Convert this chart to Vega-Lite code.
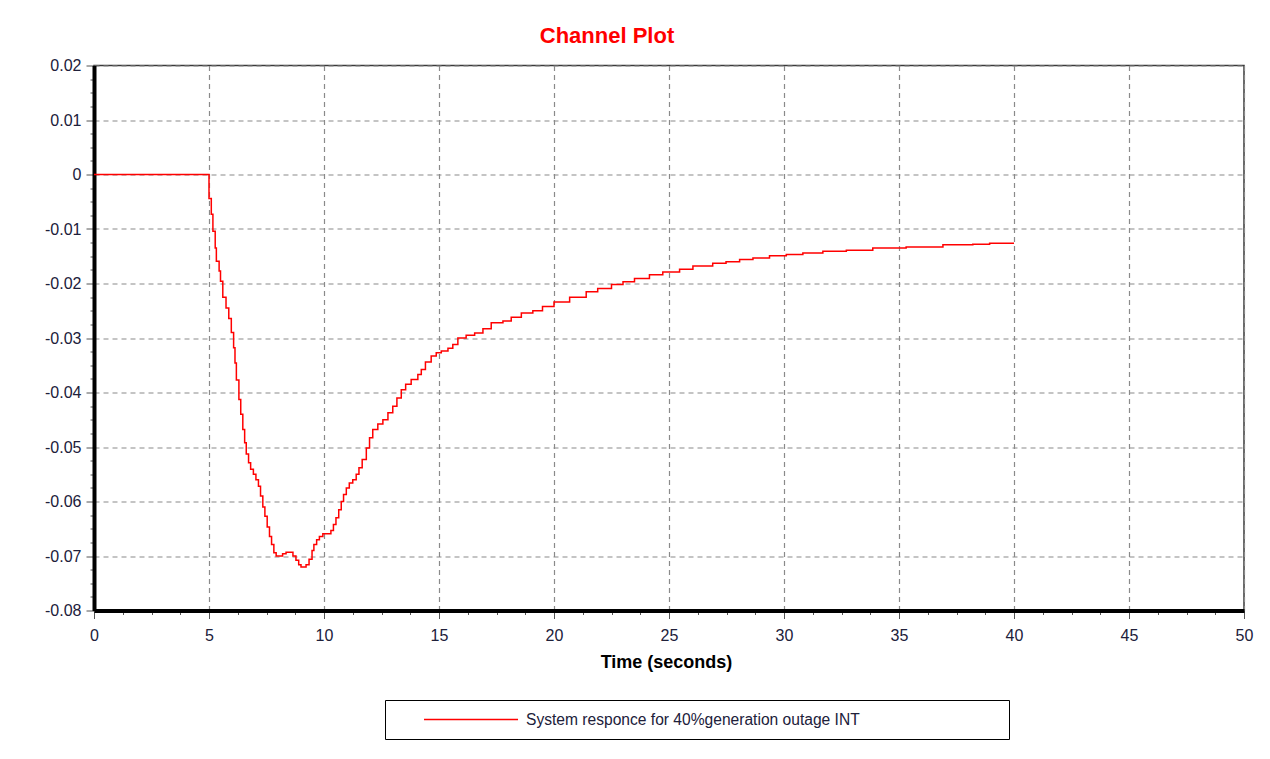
{
  "$schema": "https://vega.github.io/schema/vega-lite/v6.json",
  "autosize": {"type": "none"},
  "padding": {"left": 94, "top": 65.5, "right": 26, "bottom": 148.5},
  "width": 1150,
  "height": 545,
  "background": "white",
  "title": {
    "text": "Channel Plot",
    "color": "#ff0000",
    "font": "Liberation Sans",
    "fontSize": 22,
    "fontWeight": "bold",
    "anchor": "middle",
    "frame": "group",
    "dx": -62,
    "offset": 10
  },
  "config": {
    "view": {"stroke": "#3a3a3a", "strokeWidth": 1.5},
    "axis": {
      "labelFont": "Liberation Sans",
      "labelFontSize": 16,
      "labelColor": "#20203a",
      "titleFont": "Liberation Sans",
      "domainColor": "black",
      "domainWidth": 4,
      "tickColor": "#555555",
      "tickWidth": 1,
      "gridColor": "#8a8a8a",
      "gridDash": [5, 4],
      "gridWidth": 1.2
    },
    "legend": {
      "labelFont": "Liberation Sans",
      "labelFontSize": 15.6,
      "labelColor": "#20203a"
    }
  },
  "data": {
    "values": [
      {"t": 0, "v": 0}, {"t": 5.0, "v": -0.0044}, {"t": 5.1, "v": -0.0073},
      {"t": 5.17, "v": -0.0104}, {"t": 5.27, "v": -0.0135}, {"t": 5.32, "v": -0.0159},
      {"t": 5.44, "v": -0.0177}, {"t": 5.5, "v": -0.0196}, {"t": 5.6, "v": -0.0225},
      {"t": 5.74, "v": -0.0245}, {"t": 5.86, "v": -0.0264}, {"t": 5.97, "v": -0.029},
      {"t": 6.07, "v": -0.0318}, {"t": 6.13, "v": -0.0346}, {"t": 6.19, "v": -0.0377},
      {"t": 6.3, "v": -0.0413}, {"t": 6.38, "v": -0.044}, {"t": 6.47, "v": -0.0468},
      {"t": 6.55, "v": -0.0492}, {"t": 6.62, "v": -0.0513}, {"t": 6.72, "v": -0.0529},
      {"t": 6.81, "v": -0.0541}, {"t": 6.93, "v": -0.055}, {"t": 7.04, "v": -0.056},
      {"t": 7.15, "v": -0.0572}, {"t": 7.24, "v": -0.059}, {"t": 7.34, "v": -0.061},
      {"t": 7.43, "v": -0.0627}, {"t": 7.53, "v": -0.0647}, {"t": 7.63, "v": -0.0664},
      {"t": 7.72, "v": -0.0679}, {"t": 7.82, "v": -0.0694}, {"t": 7.92, "v": -0.07},
      {"t": 8.2, "v": -0.0696}, {"t": 8.35, "v": -0.0693}, {"t": 8.65, "v": -0.07},
      {"t": 8.78, "v": -0.0708}, {"t": 8.9, "v": -0.0716}, {"t": 9.0, "v": -0.072},
      {"t": 9.22, "v": -0.0716}, {"t": 9.35, "v": -0.0706}, {"t": 9.48, "v": -0.069},
      {"t": 9.56, "v": -0.0679}, {"t": 9.68, "v": -0.067}, {"t": 9.8, "v": -0.0664},
      {"t": 9.95, "v": -0.0659}, {"t": 10.3, "v": -0.0653}, {"t": 10.41, "v": -0.0642},
      {"t": 10.52, "v": -0.063}, {"t": 10.64, "v": -0.0615}, {"t": 10.75, "v": -0.06},
      {"t": 10.85, "v": -0.0587}, {"t": 10.97, "v": -0.0575}, {"t": 11.1, "v": -0.0566},
      {"t": 11.25, "v": -0.056}, {"t": 11.4, "v": -0.055}, {"t": 11.52, "v": -0.0538},
      {"t": 11.66, "v": -0.0523}, {"t": 11.84, "v": -0.0502}, {"t": 11.98, "v": -0.0483},
      {"t": 12.12, "v": -0.0468}, {"t": 12.34, "v": -0.0458}, {"t": 12.56, "v": -0.045},
      {"t": 12.78, "v": -0.0437}, {"t": 12.99, "v": -0.0425}, {"t": 13.17, "v": -0.041},
      {"t": 13.36, "v": -0.0395}, {"t": 13.55, "v": -0.0385}, {"t": 13.79, "v": -0.0376},
      {"t": 14.08, "v": -0.0367}, {"t": 14.23, "v": -0.0358}, {"t": 14.41, "v": -0.0344},
      {"t": 14.66, "v": -0.0333}, {"t": 14.88, "v": -0.0327}, {"t": 15.1, "v": -0.0324},
      {"t": 15.39, "v": -0.0319}, {"t": 15.6, "v": -0.0312}, {"t": 15.82, "v": -0.03},
      {"t": 16.18, "v": -0.0295}, {"t": 16.55, "v": -0.0291}, {"t": 16.91, "v": -0.0283},
      {"t": 17.27, "v": -0.0272}, {"t": 17.78, "v": -0.0269}, {"t": 18.14, "v": -0.0262},
      {"t": 18.58, "v": -0.0254}, {"t": 19.08, "v": -0.025}, {"t": 19.5, "v": -0.0242},
      {"t": 20.0, "v": -0.0234}, {"t": 20.68, "v": -0.0225}, {"t": 21.4, "v": -0.0215},
      {"t": 21.9, "v": -0.0209}, {"t": 22.5, "v": -0.0202}, {"t": 23.0, "v": -0.0197},
      {"t": 23.5, "v": -0.0191}, {"t": 24.15, "v": -0.0184}, {"t": 24.73, "v": -0.0179},
      {"t": 25.46, "v": -0.0174}, {"t": 26.04, "v": -0.0168}, {"t": 26.9, "v": -0.0163},
      {"t": 27.48, "v": -0.016}, {"t": 28.07, "v": -0.0156}, {"t": 28.65, "v": -0.0153},
      {"t": 29.37, "v": -0.0149}, {"t": 30.1, "v": -0.0147}, {"t": 30.82, "v": -0.0144},
      {"t": 31.69, "v": -0.0141}, {"t": 32.71, "v": -0.0139}, {"t": 33.86, "v": -0.0135},
      {"t": 35.31, "v": -0.0133}, {"t": 36.91, "v": -0.0129}, {"t": 38.21, "v": -0.0128},
      {"t": 38.94, "v": -0.0126}, {"t": 40.0, "v": -0.0126}
    ]
  },
  "transform": [
    {"calculate": "'System responce for 40%generation outage INT'", "as": "series"}
  ],
  "mark": {"type": "line", "interpolate": "step-after", "strokeWidth": 1.5, "clip": true},
  "encoding": {
    "x": {
      "field": "t",
      "type": "quantitative",
      "scale": {"domain": [0, 50], "nice": false, "zero": false},
      "axis": {
        "title": "Time (seconds)",
        "titleFontSize": 18,
        "titleFontWeight": "bold",
        "titleColor": "black",
        "titleBaseline": "alphabetic",
        "titleY": 57,
        "titleX": 572,
        "values": [0, 1.25, 2.5, 3.75, 5, 6.25, 7.5, 8.75, 10, 11.25, 12.5, 13.75, 15, 16.25, 17.5, 18.75, 20, 21.25, 22.5, 23.75, 25, 26.25, 27.5, 28.75, 30, 31.25, 32.5, 33.75, 35, 36.25, 37.5, 38.75, 40, 41.25, 42.5, 43.75, 45, 46.25, 47.5, 48.75, 50],
        "labelExpr": "datum.value % 5 == 0 ? datum.label : ''",
        "labelFlush": false,
        "labelOverlap": false,
        "labelPadding": 9,
        "tickSize": {"condition": {"test": "datum.value % 5 == 0", "value": 8}, "value": 4},
        "gridOpacity": {"condition": {"test": "datum.value % 5 == 0", "value": 1}, "value": 0}
      }
    },
    "y": {
      "field": "v",
      "type": "quantitative",
      "scale": {"domain": [-0.08, 0.02], "nice": false, "zero": false},
      "axis": {
        "title": null,
        "values": [-0.08, -0.0775, -0.075, -0.0725, -0.07, -0.0675, -0.065, -0.0625, -0.06, -0.0575, -0.055, -0.0525, -0.05, -0.0475, -0.045, -0.0425, -0.04, -0.0375, -0.035, -0.0325, -0.03, -0.0275, -0.025, -0.0225, -0.02, -0.0175, -0.015, -0.0125, -0.01, -0.0075, -0.005, -0.0025, 0, 0.0025, 0.005, 0.0075, 0.01, 0.0125, 0.015, 0.0175, 0.02],
        "labelExpr": "abs(datum.value * 100 - round(datum.value * 100)) < 0.001 ? replace(format(datum.value, '.2~f'), '−', '-') : ''",
        "labelOverlap": false,
        "labelFlush": false,
        "labelPadding": 5,
        "tickSize": {"condition": {"test": "abs(datum.value * 100 - round(datum.value * 100)) < 0.001", "value": 8}, "value": 4},
        "gridOpacity": {"condition": {"test": "abs(datum.value * 100 - round(datum.value * 100)) < 0.001", "value": 1}, "value": 0}
      }
    },
    "color": {
      "field": "series",
      "type": "nominal",
      "scale": {"range": ["#ff0000"]},
      "legend": {
        "title": null,
        "orient": "none",
        "legendX": 291,
        "legendY": 634.5,
        "padding": 10.5,
        "fillColor": "white",
        "strokeColor": "black",
        "symbolType": "M2.44,0H14.19M73.8,0",
        "symbolSize": 256,
        "symbolStrokeWidth": 1.5,
        "labelOffset": 112.5,
        "labelLimit": 600
      }
    }
  }
}
